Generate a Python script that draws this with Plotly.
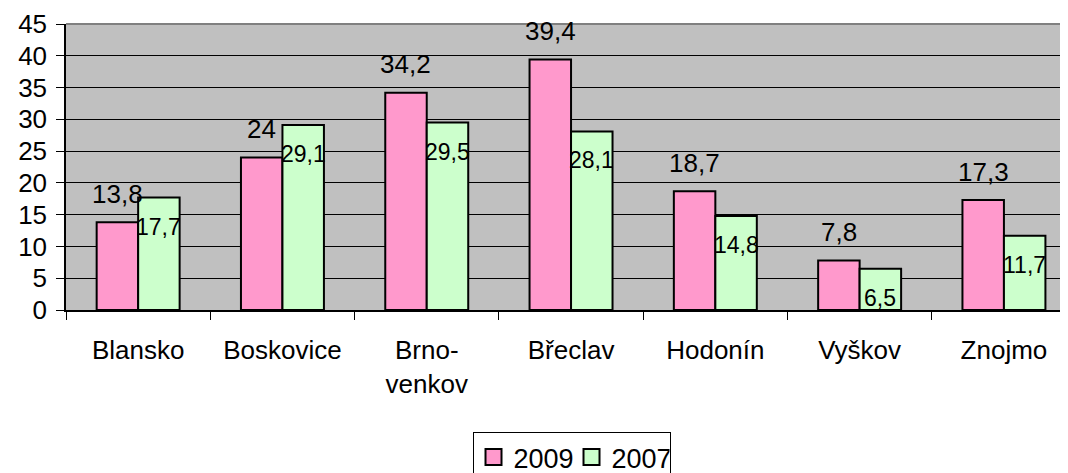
import plotly.graph_objects as go

categories = ["Blansko", "Boskovice", "Brno-<br>venkov", "Břeclav", "Hodonín", "Vyškov", "Znojmo"]
values_2009 = [13.8, 24, 34.2, 39.4, 18.7, 7.8, 17.3]
values_2007 = [17.7, 29.1, 29.5, 28.1, 14.8, 6.5, 11.7]
series_names = ["2009", "2007"]
series_colors = ["#FF99CC", "#CCFFCC"]
y_ticks = [0, 5, 10, 15, 20, 25, 30, 35, 40, 45]

FONT = "Arial, Liberation Sans, sans-serif"
fmt = lambda v: f"{v:g}".replace(".", ",")

fig = go.Figure()
for name, vals, col in zip(series_names, [values_2009, values_2007], series_colors):
    fig.add_trace(go.Bar(x=categories, y=vals, name=name, showlegend=False,
                         marker=dict(color=col, line=dict(color="black", width=2))))
# legend entries with larger square swatches
for name, col in zip(series_names, series_colors):
    fig.add_trace(go.Scatter(x=[None], y=[None], mode="markers", name=name,
                             marker=dict(symbol="square", size=17, color=col,
                                         line=dict(color="black", width=2))))

bar_px = 20.75
annotations = []
for c, v in zip(categories, values_2009):
    annotations.append(dict(x=c, y=v, xref="x", yref="y", text=fmt(v), showarrow=False,
                            xshift=-bar_px, yshift=28.5, yanchor="middle",
                            font=dict(family=FONT, size=26, color="black")))
for c, v in zip(categories, values_2007):
    annotations.append(dict(x=c, y=v, xref="x", yref="y", text=fmt(v), showarrow=False,
                            xshift=bar_px, yshift=-29, yanchor="middle",
                            font=dict(family=FONT, size=23, color="black")))

# page body has an 8px margin; figure is sized so the page totals 1068x473
fig.update_layout(
    width=1060, height=465,
    margin=dict(l=58, r=0, t=16, b=163, autoexpand=False),
    paper_bgcolor="white", plot_bgcolor="#C0C0C0",
    barmode="group", bargap=0.425, bargroupgap=0,
    font=dict(family=FONT, size=25, color="black"),
    annotations=annotations,
    showlegend=True,
    legend=dict(orientation="h", x=0.5045, xanchor="center", y=-0.4266, yanchor="top",
                bordercolor="black", borderwidth=1, bgcolor="white",
                font=dict(family=FONT, size=27, color="black"),
                entrywidth=53, itemwidth=30, tracegroupgap=0, itemsizing="trace"),
    shapes=[dict(type="line", xref="paper", yref="paper", x0=0, x1=1, y0=1, y1=1,
                 line=dict(color="#808080", width=2))],
)
fig.update_xaxes(range=[-0.5, 6.444], showline=True, linecolor="black", linewidth=1.5,
                 ticks="outside", tickson="boundaries", ticklen=8, tickcolor="black",
                 showgrid=False, tickfont=dict(family=FONT, size=26),
                 ticklabelstandoff=16, automargin=False)
fig.update_yaxes(range=[0, 45], tickvals=y_ticks, showline=True, linecolor="black", linewidth=1.5,
                 ticks="outside", ticklen=8, tickcolor="black",
                 showgrid=True, gridcolor="black", gridwidth=1, zeroline=False,
                 tickfont=dict(family=FONT, size=26), ticklabelstandoff=4, automargin=False)

fig.write_html("out.html")
